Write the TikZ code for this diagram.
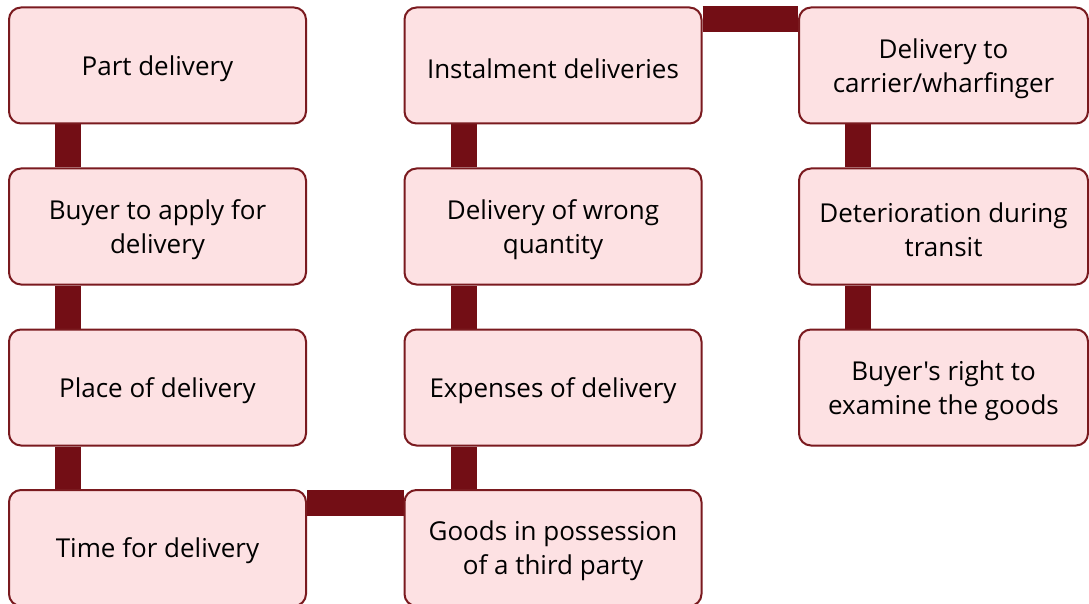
\documentclass[tikz,border=0pt]{standalone}
\usepackage{fontspec}
\newfontfamily\boxfont{Open Sans}
\usetikzlibrary{backgrounds}
\definecolor{boxfill}{HTML}{FDE1E3}
\definecolor{boxline}{HTML}{7A1A1F}
\definecolor{barcol}{HTML}{730E15}
\tikzset{
  x=1pt, y=-1pt,
  txt/.style={align=center, inner sep=0pt, yshift=-3pt,
    font=\boxfont\fontsize{26}{34}\selectfont, text=black},
  box/.style={draw=boxline, line width=2pt, fill=boxfill, rounded corners=12pt,
    minimum height=116pt, inner sep=0pt, label={[txt]center:#1}},
  wbox/.style={box=#1, minimum width=297pt},
  nbox/.style={box=#1, minimum width=289pt},
  bar/.style={barcol, line width=26pt}
}
\begin{document}
\begin{tikzpicture}
\clip (0,0) rectangle (1089,604);
\node[wbox={Part delivery}] (a1) at (157.5,65.5) {};
\node[wbox={Buyer to apply for\\delivery}] (a2) at (157.5,226.5) {};
\node[wbox={Place of delivery}] (a3) at (157.5,387.5) {};
\node[wbox={Time for delivery}] (a4) at (157.5,548) {};
\node[wbox={Goods in possession\\of a third party}] (b4) at (553,548) {};
\node[wbox={Expenses of delivery}] (b3) at (553,387.5) {};
\node[wbox={Delivery of wrong\\quantity}] (b2) at (553,226.5) {};
\node[wbox={Instalment deliveries}] (b1) at (553,65.5) {};
\node[nbox={Delivery to\\carrier/wharfinger}] (c1) at (943.5,65.5) {};
\node[nbox={Deterioration during\\transit}] (c2) at (943.5,226.5) {};
\node[nbox={Buyer's right to\\examine the goods}] (c3) at (943.5,387.5) {};
\begin{scope}[on background layer]
  \fill[white] (0,0) rectangle (1089,604);
  \draw[bar] ([xshift=60pt]a1.south west) -- ([xshift=60pt]a2.north west);
  \draw[bar] ([xshift=60pt]a2.south west) -- ([xshift=60pt]a3.north west);
  \draw[bar] ([xshift=60pt]a3.south west) -- ([xshift=60pt]a4.north west);
  \draw[bar] ([yshift=-13.5pt]a4.north east) -- ([yshift=-13.5pt]b4.north west);
  \draw[bar] ([xshift=60pt]b4.north west) -- ([xshift=60pt]b3.south west);
  \draw[bar] ([xshift=60pt]b3.north west) -- ([xshift=60pt]b2.south west);
  \draw[bar] ([xshift=60pt]b2.north west) -- ([xshift=60pt]b1.south west);
  \draw[bar] ([yshift=-13pt]b1.north east) -- ([yshift=-13pt]c1.north west);
  \draw[bar] ([xshift=60pt]c1.south west) -- ([xshift=60pt]c2.north west);
  \draw[bar] ([xshift=60pt]c2.south west) -- ([xshift=60pt]c3.north west);
\end{scope}
\end{tikzpicture}
\end{document}
